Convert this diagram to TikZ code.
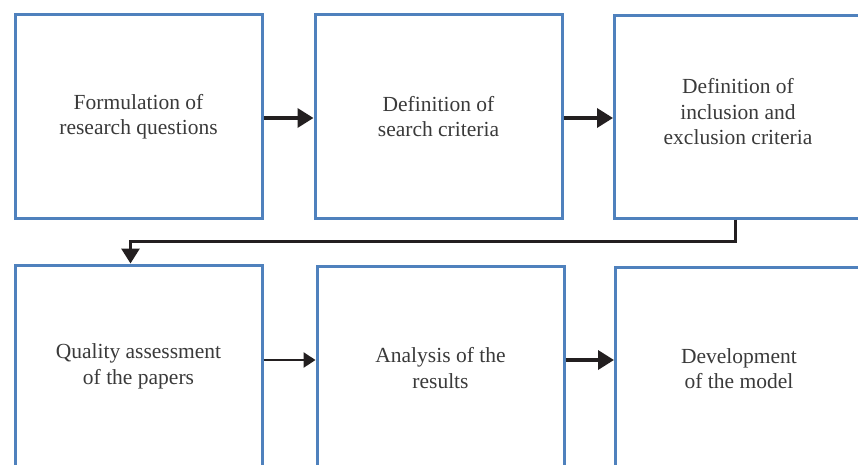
\documentclass[tikz,border=0pt]{standalone}
\usepackage{fontspec}
\setmainfont{Liberation Serif}
\usetikzlibrary{arrows.meta}
\definecolor{boxblue}{HTML}{4F81BD}
\definecolor{arrowblk}{HTML}{231F20}
\definecolor{txtgray}{HTML}{3A3A3A}
\tikzset{
  stagetext/.style={align=center, inner sep=0pt, text=txtgray,
    font=\fontsize{21.5}{25.5}\selectfont},
  stagebox/.style={stagetext, draw=boxblue, line width=3pt, fill=white, rectangle,
    minimum width=247pt, minimum height=203pt},
  bigarrow/.style={draw=arrowblk, line width=3.5pt,
    -{Triangle[length=16pt,width=19pt]}},
  smallarrow/.style={draw=arrowblk, line width=2.8pt,
    -{Triangle[length=12pt,width=15pt]}},
}
\begin{document}
\begin{tikzpicture}[x=1pt,y=-1pt]
\useasboundingbox (0,0) rectangle (858,465);
\node[stagebox] (b1) at (138.5,116.5) {Formulation of\\research questions};
\node[stagebox] (b2) at (438.5,116.5) {Definition of\\search criteria};
\node[stagebox, minimum height=202pt] (b3) at (738,117) {};
\node[stagetext] (b3t) at ([yshift=5pt]b3.center) {Definition of\\inclusion and\\exclusion criteria};
\node[stagebox] (b4) at (138.5,366.5) {Quality assessment\\of the papers};
\node[stagebox] (b5) at (440.5,368) {Analysis of the\\results};
\node[stagebox] (b6) at (739,368.5) {Development\\of the model};
\draw[bigarrow] ([yshift=-1.5pt]b1.east) -- ([yshift=-1.5pt]b2.west);
\draw[bigarrow] ([yshift=-1.5pt]b2.east) -- ([yshift=-1pt]b3.west);
\draw[draw=arrowblk, line width=3pt, -{Triangle[length=15pt,width=18pt]}]
  ([xshift=-3pt]b3.south) -- ++(0,22) -| ([xshift=-8pt]b4.north);
\draw[smallarrow] ([yshift=6.5pt]b4.east) -- ([yshift=8pt]b5.west);
\draw[bigarrow] ([yshift=8pt]b5.east) -- ([yshift=8.5pt]b6.west);
\end{tikzpicture}
\end{document}
